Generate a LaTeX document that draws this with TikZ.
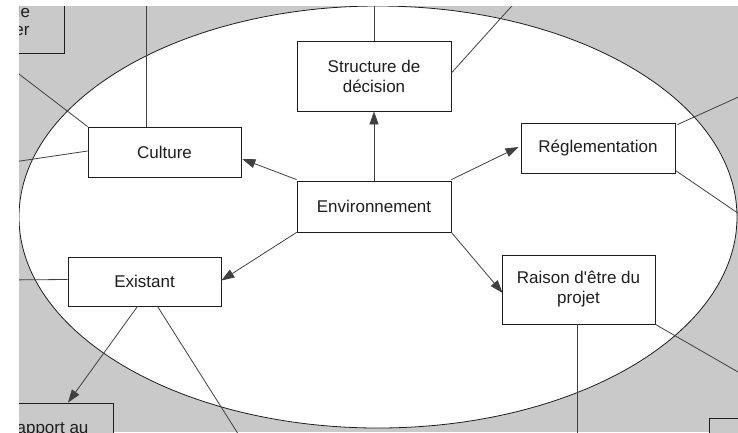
\documentclass[tikz,border=0pt]{standalone}
\usepackage{fontspec}
\setmainfont{Liberation Sans}[Ligatures=TeXOff]
\usetikzlibrary{arrows.meta,calc}
\definecolor{bggrey}{HTML}{C9C9C9}
\definecolor{ink}{HTML}{1E1E1E}
\begin{document}
\begin{tikzpicture}[x=1pt,y=-1pt,
  every node/.style={font=\fontsize{17}{20}\selectfont, text=ink},
  box/.style={draw=ink, line width=0.8pt, fill=white, inner sep=0pt, align=center},
  outbox/.style={draw=ink, line width=0.8pt, fill=bggrey, inner sep=0pt},
  link/.style={draw=ink!85, line width=0.8pt},
  arr/.style={link, -{Triangle[length=13pt,width=9pt]}}]
\useasboundingbox (0,0) rectangle (738,432);
\fill[white] (0,0) rectangle (738,432);
\begin{scope}
\clip (19,6) rectangle (738,432);
\fill[bggrey] (19,6) rectangle (738,432);
% surrounding field
\draw[fill=white, draw=ink, line width=0.8pt] (378,217) ellipse [x radius=359, y radius=211];

% neighbouring boxes at the edges
\node[outbox, minimum width=69, minimum height=58] (tl) at (29.5,24) {};
\node[anchor=base east] (tlA) at (33.5,17) {le};
\node[anchor=base east] (tlB) at (33,35) {er};
\node[outbox, minimum width=118, minimum height=42] (bl) at (54,424) {};
\node[anchor=base east] (blA) at (92,433) {apport au};
\node[outbox, minimum width=40, minimum height=30] (br) at (729,433) {};

% inner boxes
\node[box, minimum width=154, minimum height=70] (struct) at (374,76) {Structure de\\décision};
\node[box, minimum width=153, minimum height=50] (culture) at (164.5,152) {Culture};
\node[box, minimum width=154, minimum height=51] (env) at (374,206.5) {Environnement};
\node[box, minimum width=154, minimum height=50] (regl) at (598,148) {Réglementation};
\node[box, minimum width=153, minimum height=49] (exist) at (144.5,281.5) {Existant};
\node[box, minimum width=153, minimum height=69] (raison) at (578.5,289.5) {Raison d'être du\\projet};

% free ends beyond the frame
\coordinate (sUp) at (374,-2);
\coordinate (sNE) at (519,-2);
\coordinate (cUp) at (146,-2);
\coordinate (cNW) at (0,59.5);
\coordinate (cW) at (0,164);
\coordinate (eW) at (0,280);
\coordinate (eS) at (242,440);
\coordinate (rNE) at (745,94);
\coordinate (rSE) at (745,218);
\coordinate (pS) at (577,440);
\coordinate (pSE) at (745,376);

% connections leaving the field
\draw[link] (struct.north) -- (sUp);
\draw[link] ($(struct.east)+(0,-3)$) -- (sNE);
\draw[link] ($(culture.north)+(-18.5,0)$) -- (cUp);
\draw[link] (culture.north west) -- (cNW);
\draw[link] ($(culture.west)+(0,-1)$) -- (cW);
\draw[link] ($(exist.west)+(0,-2)$) -- (eW);
\draw[link] ($(exist.south)+(13,0)$) -- (eS);
\draw[link] ($(regl.north east)+(2,2)$) -- (rNE);
\draw[link] ($(regl.south east)+(0,-3)$) -- (rSE);
\draw[link] ($(raison.south)+(-1.5,0)$) -- (pS);
\draw[link] (raison.south east) -- (pSE);
\draw[arr] ($(exist.south)+(-7,0)$) -- ($(bl.north)+(14,0)$);

% relations from the environment
\draw[arr] (env.north) -- (struct.south);
\draw[arr] ($(env.north west)+(0,-1)$) -- ($(culture.east)+(1,7)$);
\draw[arr] (env.south west) -- ($(exist.east)+(0,-1)$);
\draw[arr] ($(env.north east)+(0,-1)$) -- ($(regl.west)+(-2,-1)$);
\draw[arr] (env.south east) -- ($(raison.west)+(1,3.5)$);
\end{scope}
\end{tikzpicture}
\end{document}
